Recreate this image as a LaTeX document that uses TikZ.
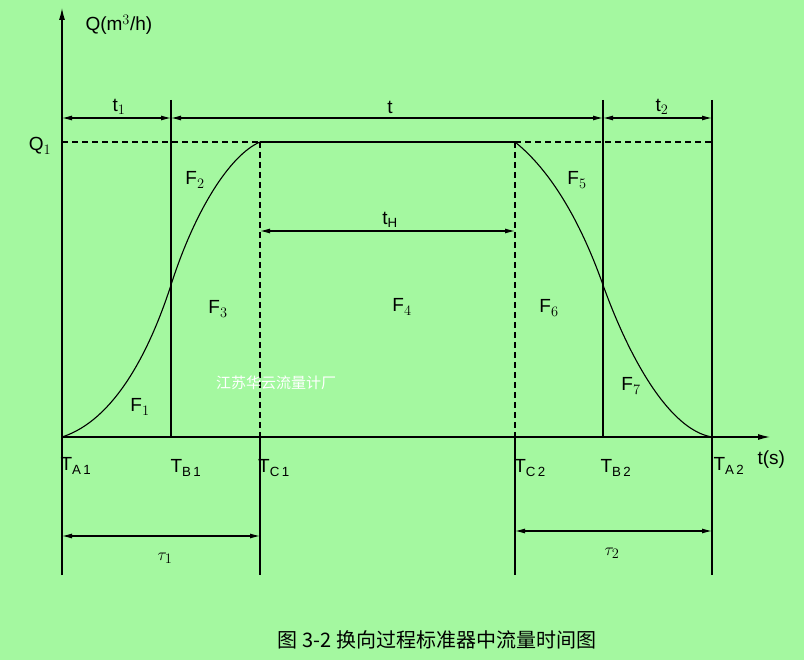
\documentclass[tikz,border=0pt]{standalone}
\usepackage{fontspec}
\setmainfont{Liberation Sans}
\newfontfamily\cjk{Noto Sans CJK SC}
\usetikzlibrary{arrows.meta}
\definecolor{bg}{RGB}{164,248,160}
\begin{document}
\begin{tikzpicture}[x=1pt,y=-1pt,
  ln/.style={line width=1.1pt,black},
  dsh/.style={dash pattern=on 6pt off 4pt},
  dim/.style={line width=1.1pt,{Latex[length=10pt,width=5pt]}-{Latex[length=10pt,width=5pt]}},
  lab/.style={font=\fontsize{19}{22}\selectfont}]
\fill[bg] (0,0) rectangle (804,660);
\useasboundingbox (0,0) rectangle (804,660);
% axes
\coordinate (o) at (62,437);
\coordinate (ytop) at (62,8);
\coordinate (ybot) at (62,575);
\coordinate (xend) at (770,437);
\draw[ln,-{Latex[length=12pt,width=6pt]}] (ybot) -- (ytop);
\draw[ln,-{Latex[length=12pt,width=6pt]}] (o) -- (xend);
\node[lab,anchor=west] (q) at (82,25) {Q(m$^3$/h)};
\node[lab] (q1) at (40,146) {Q$_1$};
% verticals
\coordinate (b1t) at (171,100); \coordinate (b1b) at (171,437);
\coordinate (c1t) at (260,142); \coordinate (c1m) at (260,437); \coordinate (c1b) at (260,575);
\coordinate (c2t) at (515,142); \coordinate (c2m) at (515,437); \coordinate (c2b) at (515,575);
\coordinate (b2t) at (603,100); \coordinate (b2b) at (603,437);
\coordinate (a2t) at (712,100); \coordinate (a2b) at (712,575);
\draw[ln] (b1t) -- (b1b);
\draw[ln,dsh] (c1t) -- (c1m);
\draw[ln] (c1m) -- (c1b);
\draw[ln,dsh] (c2t) -- (c2m);
\draw[ln] (c2m) -- (c2b);
\draw[ln] (b2t) -- (b2b);
\draw[ln] (a2t) -- (a2b);
% Q1 lines
\draw[ln,dsh] (62,142) -- (c1t);
\draw[ln] (c1t) -- (c2t);
\draw[ln,dsh] (c2t) -- (712,142);
% curves
\draw[ln] (o) .. controls (115,420) and (150,350) .. (171,285) .. controls (195,210) and (230,155) .. (c1t);
\draw[ln] (c2t) .. controls (550,170) and (580,220) .. (603,285) .. controls (630,360) and (670,430) .. (712,437);
% dims
\draw[dim] (62,118) -- (171,118);
\draw[dim] (171,118) -- (603,118);
\draw[dim] (603,118) -- (712,118);
\draw[dim] (260,231) -- (515,231);
\draw[dim] (62,536) -- (260,536);
\draw[dim] (515,531) -- (712,531);
\node[lab] (t1) at (119,107) {t$_1$};
\node[lab] (t) at (390,107) {t};
\node[lab] (t2) at (662,107) {t$_2$};
\node[lab] (tH) at (390,220) {t$_\mathrm{H}$};
\node[lab] (tau1) at (165,558) {$\tau_1$};
\node[lab] (tau2) at (612,553) {$\tau_2$};
% F labels
\node[lab] (F1) at (140,407) {F$_1$};
\node[lab] (F2) at (195,180) {F$_2$};
\node[lab] (F3) at (218,309) {F$_3$};
\node[lab] (F4) at (402,307) {F$_4$};
\node[lab] (F5) at (577,180) {F$_5$};
\node[lab] (F6) at (549,308) {F$_6$};
\node[lab] (F7) at (631,386) {F$_7$};
% T labels
\node[lab] (TA1) at (76,466) {T$_\mathrm{A\,1}$};
\node[lab] (TB1) at (186,468) {T$_\mathrm{B\,1}$};
\node[lab] (TC1) at (274,468) {T$_\mathrm{C\,1}$};
\node[lab] (TC2) at (530,468) {T$_\mathrm{C\,2}$};
\node[lab] (TB2) at (616,468) {T$_\mathrm{B\,2}$};
\node[lab,anchor=west] (TA2) at (710,466) {T$_\mathrm{A\,2}$};
\node[lab,anchor=west] (ts) at (754,460) {t(s)};
\node[white,font=\cjk\fontsize{15}{17}\selectfont] (wm) at (276,383) {江苏华云流量计厂};
\node[font=\cjk\fontsize{20}{22}\selectfont] (cap) at (437,640) {图 3-2 换向过程标准器中流量时间图};
\end{tikzpicture}
\end{document}
